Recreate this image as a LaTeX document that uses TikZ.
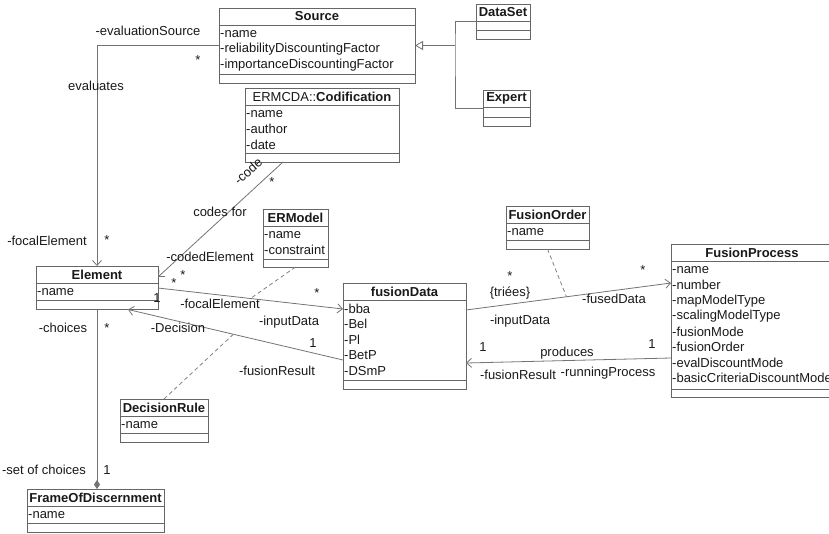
\documentclass[tikz,border=0pt]{standalone}
\usepackage{fontspec}
\setmainfont{Liberation Sans}
\usetikzlibrary{arrows.meta,calc}

\begin{document}
\begin{tikzpicture}[x=1pt,y=-1pt,
  font=\fontsize{13}{15}\selectfont,
  classbox/.style={draw=black!60, line width=1pt, fill=white, inner sep=0pt, outer sep=0pt, anchor=north west},
  classline/.style={draw=black!60, line width=1pt},
  classtitle/.style={font=\fontsize{13}{15}\selectfont\bfseries, text=black!90, inner sep=0pt},
  classattr/.style={anchor=west, text=black!90, inner sep=1pt},
  assoc/.style={draw=black!55, line width=0.8pt},
  navig/.style={assoc, -{Straight Barb[length=5pt,width=9pt]}},
  linkdash/.style={draw=black!50, line width=0.8pt, dash pattern=on 4pt off 3pt},
  role/.style={text=black!90, inner sep=1pt}]
\useasboundingbox (0,0) rectangle (829,533);

%Class [Source]
\node[classbox, minimum width=196, minimum height=75] (source) at (219,8) {};
\node[classtitle] (source-t) at (317,16.5) {Source};
\draw[classline] (219,25) -- (415,25) (219,74) -- (415,74);
\foreach \a [count=\i] in {-name,-reliabilityDiscountingFactor,-importanceDiscountingFactor}
  \node[classattr] (source-\i) at (219,25+1+15.5*\i-7.75) {\a};

%Class [DataSet]
\node[classbox, minimum width=54, minimum height=35] (dataset) at (476,4) {};
\node[classtitle] (dataset-t) at (503,12.5) {DataSet};
\draw[classline] (476,21) -- (530,21) (476,30) -- (530,30);

%Class [Expert]
\node[classbox, minimum width=47, minimum height=36] (expert) at (483,90) {};
\node[classtitle] (expert-t) at (506.5,98.5) {Expert};
\draw[classline] (483,107) -- (530,107) (483,117) -- (530,117);

%Class [Codification]
\node[classbox, minimum width=154, minimum height=74] (codification) at (245,88) {};
\node[classtitle] (codification-t) at (322,96.5) {\mdseries ERMCDA::\textbf{Codification}};
\draw[classline] (245,105) -- (399,105) (245,153) -- (399,153);
\foreach \a [count=\i] in {-name,-author,-date}
  \node[classattr] (codification-\i) at (245,105+1+15.5*\i-7.75) {\a};

%Class [Element]
\node[classbox, minimum width=122, minimum height=43.5] (element) at (36,266) {};
\node[classtitle] (element-t) at (97,274.5) {Element};
\draw[classline] (36,283) -- (158,283) (36,300.5) -- (158,300.5);
\node[classattr] (element-1) at (36,291.75) {-name};

%Class [ERModel]
\node[classbox, minimum width=65, minimum height=58] (ermodel) at (263,209) {};
\node[classtitle] (ermodel-t) at (295.5,217.5) {ERModel};
\draw[classline] (263,226) -- (328,226) (263,259) -- (328,259);
\foreach \a [count=\i] in {-name,-constraint}
  \node[classattr] (ermodel-\i) at (263,226+1+15.5*\i-7.75) {\a};

%Class [fusionData]
\node[classbox, minimum width=123, minimum height=106] (fusiondata) at (343,283) {};
\node[classtitle] (fusiondata-t) at (404.5,291.5) {fusionData};
\draw[classline] (343,300) -- (466,300) (343,380) -- (466,380);
\foreach \a [count=\i] in {-bba,-Bel,-Pl,-BetP,-DSmP}
  \node[classattr] (fusiondata-\i) at (343,300+1+15.5*\i-7.75) {\a};

%Class [FusionOrder]
\node[classbox, minimum width=83, minimum height=43] (fusionorder) at (506,206) {};
\node[classtitle] (fusionorder-t) at (547.5,214.5) {FusionOrder};
\draw[classline] (506,223) -- (589,223) (506,240) -- (589,240);
\node[classattr] (fusionorder-1) at (506,231.75) {-name};

%Class [FusionProcess]
\node[classbox, minimum width=162, minimum height=153] (fusionprocess) at (671,244) {};
\node[classtitle] (fusionprocess-t) at (752,252.5) {FusionProcess};
\draw[classline] (671,261) -- (833,261) (671,389) -- (833,389);
\foreach \a [count=\i] in {-name,-number,-mapModelType,-scalingModelType,-fusionMode,-fusionOrder,-evalDiscountMode,-basicCriteriaDiscountMode}
  \node[classattr] (fusionprocess-\i) at (671,261+1+15.5*\i-7.75) {\a};

%Class [DecisionRule]
\node[classbox, minimum width=88, minimum height=43] (decisionrule) at (120,399) {};
\node[classtitle] (decisionrule-t) at (164,407.5) {DecisionRule};
\draw[classline] (120,416) -- (208,416) (120,433) -- (208,433);
\node[classattr] (decisionrule-1) at (120,424.75) {-name};

%Class [FrameOfDiscernment]
\node[classbox, minimum width=137, minimum height=43] (fod) at (27,489) {};
\node[classtitle] (fod-t) at (95.5,497.5) {FrameOfDiscernment};
\draw[classline] (27,506) -- (164,506) (27,523) -- (164,523);
\node[classattr] (fod-1) at (27,514.75) {-name};

%Generalization
\coordinate (genjoint) at (455,45.5);
\draw[assoc] (dataset.west) -| (genjoint) |- (expert.west);
\draw[assoc, -{Triangle[open,length=8pt,width=9pt]}] (genjoint) -- (source.east);

%Associations
\draw[navig] (source.west) -| (element.north);
\draw[navig] ([xshift=-39pt]codification.south) -- ([yshift=-11pt]element.north east);
\draw[navig] ([yshift=-22pt]element.north east) -- coordinate[pos=0.5] (focalmid) ([yshift=-26pt]fusiondata.north west);
\draw[navig] ([yshift=-77pt]fusiondata.north west) -- coordinate[pos=0.51] (decisionmid) ([xshift=31pt]element.south);
\draw[navig] ([yshift=-27pt]fusiondata.north east) -- coordinate[pos=0.49] (fusedmid) ([yshift=-39pt]fusionprocess.north west);
\draw[navig] ([yshift=-114pt]fusionprocess.north west) -- ([yshift=-80pt]fusiondata.north east);
\draw[assoc, -{Diamond[length=9pt,width=6pt]}] (element.south) -- (element.south |- fod.north);

%Association classes
\draw[linkdash] (ermodel.south) -- (focalmid);
\draw[linkdash] (decisionrule.north) -- (decisionmid);
\draw[linkdash] (fusionorder.south) -- (fusedmid);

% Text Node
\node[role] (r1) at (148,31) {-evaluationSource};
\node[role] (r2) at (198,60) {*};
\node[role] (r3) at (96,86) {evaluates};
\node[role] (r4) at (47,241) {-focalElement};
\node[role] (r5) at (107,240) {*};
\node[role, rotate=42] (r6) at (248,171) {-code};
\node[role] (r7) at (272,182) {*};
\node[role] (r8) at (220,212) {codes for};
\node[role] (r9) at (210,257) {-codedElement};
\node[role] (r10) at (183,275) {*};
\node[role] (r11) at (174,283) {*};
\node[role] (r12) at (157,298) {1};
\node[role] (r13) at (220,304) {-focalElement};
\node[role] (r14) at (317,293) {*};
\node[role] (r15) at (289,322) {-inputData};
\node[role] (r16) at (178,328) {-Decision};
\node[role] (r17) at (313,343) {1};
\node[role] (r18) at (277,371) {-fusionResult};
\node[role] (r19) at (510,276) {*};
\node[role] (r20) at (510,293) {\{triées\}};
\node[role] (r21) at (614,299) {-fusedData};
\node[role] (r22) at (643,270) {*};
\node[role] (r23) at (520,321) {-inputData};
\node[role] (r24) at (483,347) {1};
\node[role] (r25) at (567,353) {produces};
\node[role] (r26) at (652,344) {1};
\node[role] (r27) at (518,375) {-fusionResult};
\node[role] (r28) at (608,373) {-runningProcess};
\node[role] (r29) at (63,328) {-choices};
\node[role] (r30) at (107,328) {*};
\node[role] (r31) at (44,470) {-set of choices};
\node[role] (r32) at (107,470) {1};

\end{tikzpicture}
\end{document}
